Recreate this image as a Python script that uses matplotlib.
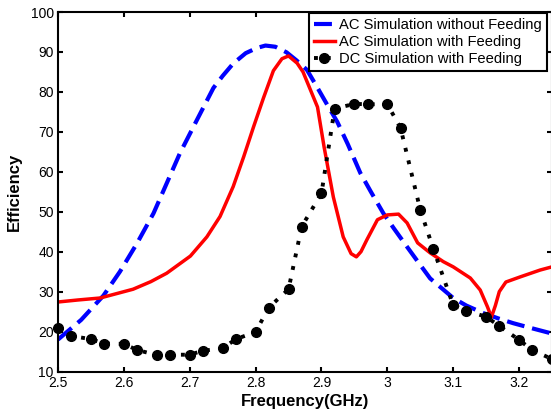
import matplotlib
matplotlib.use("Agg")
import matplotlib.pyplot as plt

plt.rcParams['font.family'] = ['Liberation Sans', 'DejaVu Sans']

# AC simulation without feeding (blue dashed)
ac_nofeed_freq = [2.50, 2.535, 2.569, 2.594, 2.62, 2.645, 2.665, 2.685, 2.711, 2.736,
                  2.75, 2.766, 2.785, 2.802, 2.815, 2.83, 2.847, 2.862, 2.878, 2.893,
                  2.909, 2.924, 2.94, 2.959, 2.975, 2.994, 3.01, 3.03, 3.045, 3.065,
                  3.08, 3.10, 3.12, 3.146, 3.17, 3.191, 3.22, 3.25]
ac_nofeed_eff = [18.0, 22.9, 29.0, 35.0, 42.1, 49.6, 57.1, 64.6, 73.0, 81.0,
                 84.0, 87.1, 89.7, 91.0, 91.6, 91.3, 89.9, 87.9, 85.5, 81.3,
                 76.7, 72.5, 66.9, 59.7, 55.0, 49.6, 45.8, 41.2, 37.8, 33.3,
                 31.2, 28.4, 26.5, 24.6, 23.2, 22.1, 20.8, 19.5]

# AC simulation with feeding (red solid)
ac_feed_freq = [2.50, 2.53, 2.564, 2.614, 2.641, 2.665, 2.701, 2.726, 2.746, 2.766,
                2.782, 2.797, 2.812, 2.827, 2.840, 2.850, 2.863, 2.872, 2.894, 2.904,
                2.918, 2.933, 2.945, 2.953, 2.96, 2.969, 2.985, 3.00, 3.017, 3.03,
                3.046, 3.065, 3.085, 3.10, 3.126, 3.141, 3.152, 3.158, 3.164, 3.170,
                3.180, 3.202, 3.232, 3.25]
ac_feed_eff = [27.4, 27.9, 28.4, 30.6, 32.5, 34.6, 38.9, 43.7, 48.8, 56.3,
               63.8, 71.3, 78.5, 85.3, 88.3, 89.0, 87.2, 85.0, 76.2, 66.2,
               53.7, 43.7, 39.5, 38.7, 40.0, 43.0, 48.0, 49.2, 49.4, 47.2,
               42.2, 39.7, 37.5, 36.2, 33.4, 30.4, 26.2, 23.6, 26.5, 30.0,
               32.4, 33.7, 35.4, 36.2]

# DC simulation with feeding (black dotted with markers)
dc_feed_freq = [2.50, 2.52, 2.55, 2.57, 2.60, 2.62, 2.65, 2.67, 2.70, 2.72,
                2.75, 2.77, 2.80, 2.82, 2.85, 2.87, 2.90, 2.92, 2.95, 2.97,
                3.00, 3.02, 3.05, 3.07, 3.10, 3.12, 3.15, 3.17, 3.20, 3.22, 3.25]
dc_feed_eff = [21.0, 18.9, 18.1, 17.0, 16.9, 15.4, 14.1, 14.2, 14.2, 15.2,
               15.8, 18.1, 19.9, 26.0, 30.6, 46.3, 54.6, 75.8, 77.0, 76.9,
               76.9, 71.0, 50.5, 40.6, 26.6, 25.2, 23.7, 21.4, 17.9, 15.4, 13.1]

x_ticks = [2.5, 2.6, 2.7, 2.8, 2.9, 3.0, 3.1, 3.2]
x_tick_labels = ['2.5', '2.6', '2.7', '2.8', '2.9', '3', '3.1', '3.2']
y_ticks = [10, 20, 30, 40, 50, 60, 70, 80, 90, 100]

W, H = 551, 416
fig = plt.figure(figsize=(W / 100, H / 100), dpi=100)
ax = fig.add_axes([58 / W, 1 - 371.5 / H, (552 - 58) / W, (371.5 - 12) / H])

ax.plot(ac_nofeed_freq, ac_nofeed_eff, color='#0000ff', lw=3.0,
        dashes=(4.3, 1.9), dash_capstyle='butt',
        label='AC Simulation without Feeding')
ax.plot(ac_feed_freq, ac_feed_eff, color='#ff0000', lw=2.5,
        solid_joinstyle='round', label='AC Simulation with Feeding')
ax.plot(dc_feed_freq, dc_feed_eff, color='black', lw=2.8,
        dashes=(1.0, 2.3), dash_capstyle='butt',
        marker='o', markersize=7, markerfacecolor='black',
        markeredgecolor='black', clip_on=False,
        label='DC Simulation with Feeding')

ax.set_xlim(2.5, 3.25)
ax.set_ylim(10, 100)
ax.set_xticks(x_ticks)
ax.set_xticklabels(x_tick_labels)
ax.set_yticks(y_ticks)

for sp in ax.spines.values():
    sp.set_linewidth(1.5)
ax.tick_params(direction='in', top=True, right=True, length=3.6, width=1.5,
               labelsize=10, pad=3)

ax.set_xlabel('Frequency(GHz)', fontsize=12, fontweight='bold')
ax.xaxis.set_label_coords(0.5, -0.062)
ax.set_ylabel('Efficiency', fontsize=12, fontweight='bold')
ax.yaxis.set_label_coords(-0.088, 0.5)
ax.yaxis.label.set_va('center')

leg = ax.legend(loc='upper right', bbox_to_anchor=((547 - 58) / 494, 1 - 1 / 359.5),
                borderaxespad=0, fontsize=10.6, handlelength=1.4,
                handletextpad=0.3, borderpad=0.35, labelspacing=0.2,
                numpoints=1, fancybox=False, framealpha=1, edgecolor='black')
leg.get_frame().set_linewidth(1.5)

fig.savefig('out.png', dpi=100)
